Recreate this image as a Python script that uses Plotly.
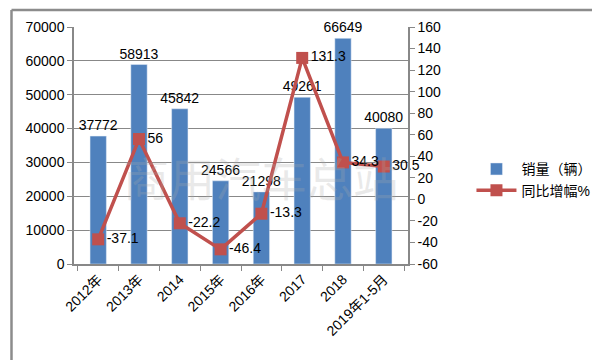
import plotly.graph_objects as go

categories = ["2012年", "2013年", "2014", "2015年", "2016年", "2017", "2018", "2019年1-5月"]
sales = [37772, 58913, 45842, 24566, 21298, 49261, 66649, 40080]
growth = [-37.1, 56, -22.2, -46.4, -13.3, 131.3, 34.3, 30.5]
growth_labels = ["-37.1", "56", "-22.2", "-46.4", "-13.3", "131.3", "34.3", "30.5"]
left_ticks = [0, 10000, 20000, 30000, 40000, 50000, 60000, 70000]
right_ticks = [-60, -40, -20, 0, 20, 40, 60, 80, 100, 120, 140, 160]

FONT = "Liberation Sans, Noto Sans CJK SC, sans-serif"
L, R, T, B = 66, 192, 19, 104
W, H = 600, 360
pw, ph = W - L - R, H - T - B

fig = go.Figure()
fig.add_trace(go.Bar(
    x=categories, y=sales, name="销量（辆）",
    marker=dict(color="#4F81BD"),
    text=[str(v) for v in sales], textposition="outside",
    textfont=dict(size=14, color="#000000", family=FONT),
    constraintext="none", cliponaxis=False,
))
fig.add_trace(go.Scatter(
    x=categories, y=growth, name="同比增幅%", yaxis="y2",
    mode="lines+markers+text",
    line=dict(color="#C0504D", width=3.5),
    marker=dict(symbol="square", size=12, color="#C0504D"),
    text=growth_labels, textposition="middle right",
    textfont=dict(size=14, color="#000000", family=FONT),
    cliponaxis=False,
))

fig.add_annotation(
    text="商用汽车总站", x=0.56, y=0.37, xref="paper", yref="paper",
    showarrow=False, font=dict(size=46, color="rgba(170,170,170,0.25)", family="Noto Sans CJK SC"),
)

# outer frame as four lines (paper coordinates computed from pixel margins)
fx0, fx1 = (2 - L) / pw, (W - 2 - L) / pw
fy0, fy1 = -(B - 2) / ph, 1 + (T - 2) / ph
for (a, b, c, d) in [(fx0, fy0, fx1, fy0), (fx0, fy1, fx1, fy1), (fx0, fy0, fx0, fy1), (fx1, fy0, fx1, fy1)]:
    fig.add_shape(type="line", xref="paper", yref="paper", x0=a, y0=b, x1=c, y1=d,
                  line=dict(color="#8c8c8c", width=2.5), layer="above")

fig.update_layout(
    width=W, height=H,
    margin=dict(l=L, r=R, t=T, b=B, pad=0),
    paper_bgcolor="white", plot_bgcolor="white",
    font=dict(family=FONT, size=14, color="#000000"),
    bargap=0.6,
    showlegend=True,
    legend=dict(x=1.19, y=0.355, xanchor="left", yanchor="middle",
                font=dict(size=14, family=FONT), bgcolor="rgba(0,0,0,0)",
                itemwidth=40, tracegroupgap=10),
    xaxis=dict(
        type="category", tickangle=-45, tickson="boundaries",
        ticks="outside", ticklen=5, tickcolor="#888888",
        showline=True, linecolor="#888888", linewidth=1.5,
        showgrid=False, tickfont=dict(size=14),
    ),
    yaxis=dict(
        range=[0, 70000], tickvals=left_ticks, ticktext=[str(v) for v in left_ticks],
        ticks="outside", ticklen=5, tickcolor="#888888",
        showline=True, linecolor="#888888", linewidth=1.5,
        showgrid=True, gridcolor="#888888", gridwidth=1.2,
        zeroline=False, tickfont=dict(size=14),
    ),
    yaxis2=dict(
        range=[-60, 160], tickvals=right_ticks, ticktext=[str(v) for v in right_ticks],
        overlaying="y", side="right",
        ticks="outside", ticklen=5, tickcolor="#888888",
        showline=True, linecolor="#888888", linewidth=1.5,
        showgrid=False, zeroline=False, tickfont=dict(size=14),
    ),
)

fig.write_html("out.html")
